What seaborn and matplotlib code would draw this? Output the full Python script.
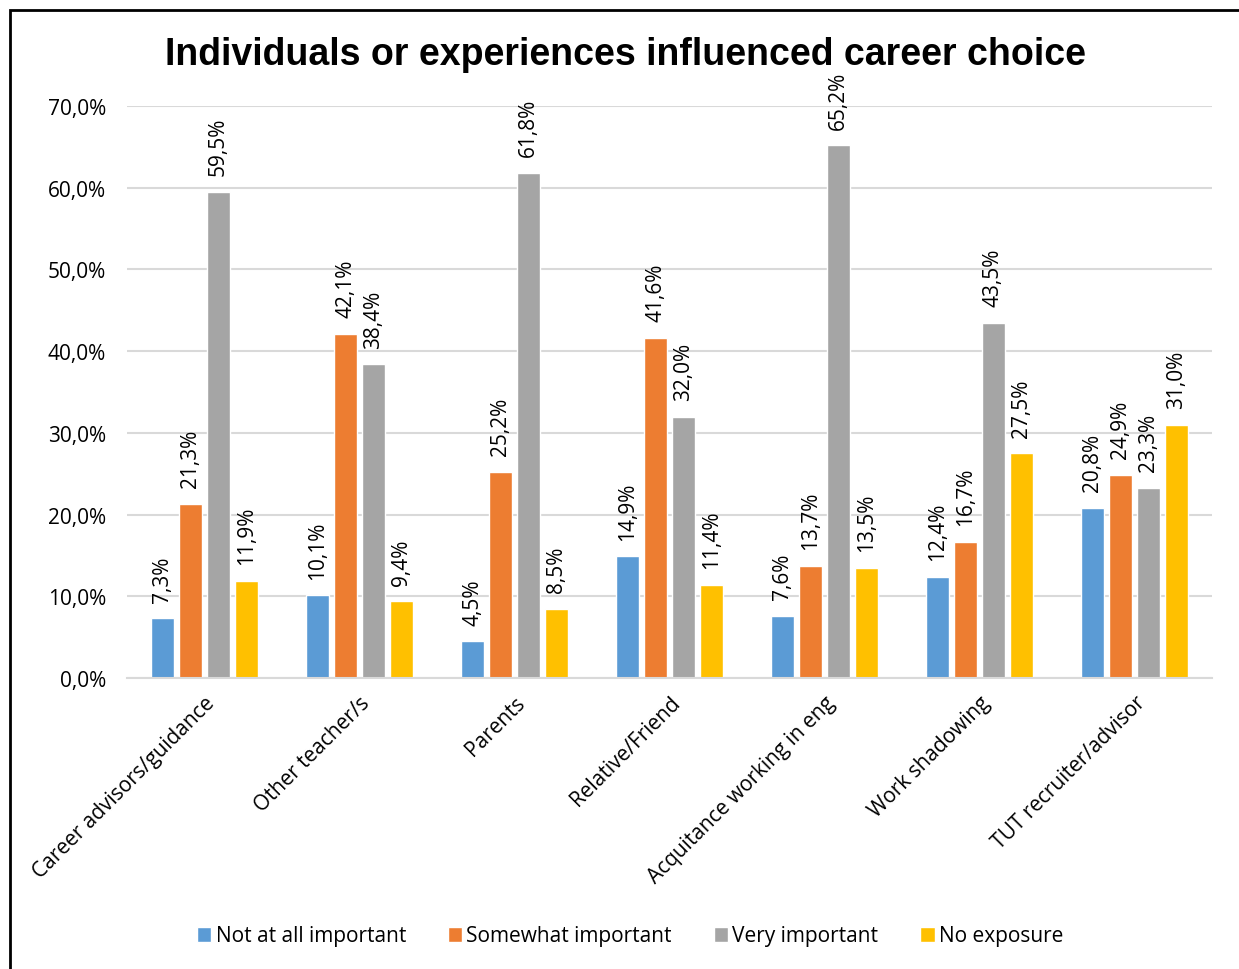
import matplotlib
matplotlib.use("Agg")
import matplotlib.pyplot as plt
import matplotlib.patches as mpatches
import seaborn as sns
import pandas as pd

categories = ["Career advisors/guidance", "Other teacher/s", "Parents", "Relative/Friend",
              "Acquitance working in eng", "Work shadowing", "TUT recruiter/advisor"]
series = ["Not at all important", "Somewhat important", "Very important", "No exposure"]
not_at_all = [7.3, 10.1, 4.5, 14.9, 7.6, 12.4, 20.8]
somewhat = [21.3, 42.1, 25.2, 41.6, 13.7, 16.7, 24.9]
very = [59.5, 38.4, 61.8, 32.0, 65.2, 43.5, 23.3]
no_exposure = [11.9, 9.4, 8.5, 11.4, 13.5, 27.5, 31.0]
colors = ["#5B9BD5", "#ED7D31", "#A5A5A5", "#FFC000"]
y_ticks = [0, 10, 20, 30, 40, 50, 60, 70]

rows = []
for s, vals in zip(series, [not_at_all, somewhat, very, no_exposure]):
    for c, v in zip(categories, vals):
        rows.append({"category": c, "series": s, "value": v})
df = pd.DataFrame(rows)

sns.set_theme(style="white")
plt.rcParams["font.family"] = ["Open Sans", "DejaVu Sans"]
plt.rcParams["text.color"] = "black"
plt.rcParams["xtick.color"] = "black"
plt.rcParams["ytick.color"] = "black"

FS = 15

fig = plt.figure(figsize=(12.39, 9.70), dpi=100)
ax = fig.add_axes([127 / 1239, 1 - 679 / 970, (1212 - 127) / 1239, (679 - 107) / 970])

sns.barplot(data=df, x="category", y="value", hue="series", order=categories,
            hue_order=series, palette=colors, width=0.72, gap=0.2,
            saturation=1, ax=ax, legend=True)

ax.set_ylim(0, 70)
ax.set_yticks(y_ticks)
ax.set_yticklabels([f"{t:.1f}%".replace(".", ",") for t in y_ticks], fontsize=FS)
ax.yaxis.grid(True, color="#D9D9D9", linewidth=1.5)
ax.set_axisbelow(True)
for side in ["left", "right", "top"]:
    ax.spines[side].set_visible(False)
ax.spines["bottom"].set_color("#D9D9D9")
ax.spines["bottom"].set_linewidth(1.5)
ax.tick_params(axis="y", length=0, pad=15)
ax.tick_params(axis="x", length=0, pad=10)
ax.set_xlabel("")
ax.set_ylabel("")
ax.set_xticks(range(len(categories)))
ax.set_xticklabels(categories, rotation=45, ha="right", rotation_mode="anchor", fontsize=FS)

for cont in ax.containers:
    labels = [f"{v:.1f}%".replace(".", ",") for v in cont.datavalues]
    ax.bar_label(cont, labels=labels, rotation=90, padding=12, fontsize=FS, color="black")

handles, labels = ax.get_legend_handles_labels()
ax.legend(handles, labels, loc="center", bbox_to_anchor=(630 / 1239, 1 - 937 / 970),
          bbox_transform=fig.transFigure, ncol=4, frameon=False, fontsize=FS,
          handlelength=0.7, handleheight=0.7, handletextpad=0.2, columnspacing=2.0)

fig.text(625 / 1239, 1 - 55 / 970, "Individuals or experiences influenced career choice",
         ha="center", va="center", fontsize=27, fontweight="bold", color="black",
         family=["Liberation Sans", "DejaVu Sans"])

# chart frame
frame = mpatches.Rectangle((9.5 / 1239, -0.1), 1.2, 1.1 - 10.5 / 970,
                           transform=fig.transFigure, fill=False,
                           edgecolor="black", linewidth=2, clip_on=False)
fig.patches.append(frame)

fig.savefig("out.png", dpi=100)
